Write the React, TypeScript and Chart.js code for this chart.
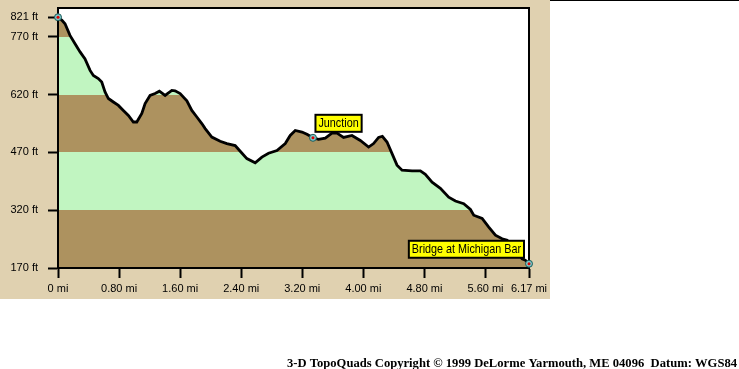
import React, { useEffect, useRef } from "react";
import { Chart, registerables } from "chart.js";

Chart.register(...registerables);

// Profile: distance (mi) and elevation (ft)
const DIST = [
  0.0, 0.052, 0.092, 0.157, 0.223, 0.289, 0.354, 0.42, 0.463, 0.528, 0.573, 0.616, 0.66, 0.725, 0.791,
  0.856, 0.922, 0.987, 1.032, 1.098, 1.141, 1.206, 1.272, 1.328, 1.403, 1.491, 1.534, 1.6, 1.688, 1.753,
  1.819, 1.884, 1.928, 2.015, 2.124, 2.212, 2.321, 2.387, 2.474, 2.583, 2.671, 2.758, 2.868, 2.977, 3.042,
  3.108, 3.196, 3.261, 3.34, 3.413, 3.501, 3.589, 3.655, 3.741, 3.851, 3.96, 4.069, 4.134, 4.2, 4.249,
  4.31, 4.376, 4.441, 4.507, 4.638, 4.747, 4.812, 4.9, 5.009, 5.118, 5.206, 5.315, 5.403, 5.446, 5.556,
  5.643, 5.73, 5.818, 5.884, 5.98, 6.08, 6.124, 6.17,
];
const ELEV = [
  821, 813, 804, 774, 752, 731, 713, 683, 670, 662, 653, 627, 610, 601, 592,
  579, 566, 549, 549, 571, 597, 618, 623, 629, 618, 631, 630, 623, 604, 579,
  562, 545, 532, 510, 499, 493, 488, 473, 454, 443, 458, 468, 475, 493, 514,
  527, 523, 517, 508, 504, 507, 520, 520, 509, 514, 501, 484, 493, 509, 512,
  497, 467, 437, 424, 422, 422, 413, 393, 377, 354, 344, 337, 322, 307, 299,
  276, 255, 246, 242, 221, 194, 190, 181,
];

const X_TICKS = [0, 0.8, 1.6, 2.4, 3.2, 4.0, 4.8, 5.6, 6.17];
const Y_TICKS = [170, 320, 470, 620, 770, 821];
const BAND_EDGES = [320, 470, 620, 770];

const WAYPOINT_DIST = [0, 3.34, 6.17];
const WAYPOINT_ELEV = [821, 508, 181];
const WAYPOINT_NAMES = ["", "Junction", "Bridge at Michigan Bar"];

const COPYRIGHT = "3-D TopoQuads Copyright \u00A9 1999 DeLorme Yarmouth, ME 04096  Datum: WGS84";

const BROWN = "#AD925F";
const GREEN = "#C1F5C1";
const TAN = "#E0D1B0";
const SANS = "'Liberation Sans', Arial, sans-serif";

export default function App() {
  const ref = useRef<HTMLCanvasElement | null>(null);

  useEffect(() => {
    const canvas = ref.current;
    if (!canvas) return;

    const decor = {
      id: "decor",
      beforeDraw(chart: any) {
        const ctx = chart.ctx;
        const a = chart.chartArea;
        ctx.save();
        ctx.fillStyle = "#fff";
        ctx.fillRect(0, 0, chart.width, chart.height);
        ctx.fillStyle = TAN;
        ctx.fillRect(0, 0, 550, 299);
        ctx.fillStyle = "#fff";
        ctx.fillRect(a.left, a.top, a.right - a.left, a.bottom - a.top);
        ctx.fillStyle = "#000";
        ctx.fillRect(550, 0, chart.width - 550, 1);
        // copyright
        ctx.font = "bold 12px 'Liberation Serif', 'Times New Roman', serif";
        const w = ctx.measureText(COPYRIGHT).width;
        ctx.translate(287, 366.5);
        ctx.scale(450 / w, 1);
        ctx.textBaseline = "alphabetic";
        ctx.textAlign = "left";
        ctx.fillText(COPYRIGHT, 0, 0);
        ctx.restore();
      },
      afterDatasetsDraw(chart: any) {
        const ctx = chart.ctx;
        const a = chart.chartArea;
        const xs = chart.scales.x;
        const ys = chart.scales.y;
        const squeeze = 0.83;
        ctx.save();
        ctx.strokeStyle = "#000";
        ctx.lineWidth = 2;
        ctx.strokeRect(a.left, a.top, a.right - a.left, a.bottom - a.top);
        ctx.font = "13px " + SANS;
        ctx.textBaseline = "middle";
        ctx.textAlign = "center";
        WAYPOINT_DIST.forEach((d, i) => {
          const px = xs.getPixelForValue(d);
          const py = ys.getPixelForValue(WAYPOINT_ELEV[i]);
          const name = WAYPOINT_NAMES[i];
          if (name) {
            const tw = ctx.measureText(name).width * squeeze + 6;
            const th = 17;
            let bx = px + 2.5;
            if (bx + tw > a.right) bx = px - 5 - tw;
            const by = py - 6 - th;
            ctx.fillStyle = "#FFFF00";
            ctx.fillRect(bx, by, tw, th);
            ctx.lineWidth = 2;
            ctx.strokeStyle = "#000";
            ctx.strokeRect(bx, by, tw, th);
            ctx.fillStyle = "#000";
            ctx.save();
            ctx.translate(bx + tw / 2, by + th / 2 + 0.5);
            ctx.scale(squeeze, 1);
            ctx.fillText(name, 0, 0);
            ctx.restore();
          }
          // marker
          ctx.beginPath();
          ctx.arc(px, py, 3.5, 0, Math.PI * 2);
          ctx.fillStyle = "#7CC8C8";
          ctx.fill();
          ctx.lineWidth = 1;
          ctx.strokeStyle = "#1E5A5A";
          ctx.stroke();
          ctx.beginPath();
          ctx.arc(px, py, 1.5, 0, Math.PI * 2);
          ctx.fillStyle = "#E00000";
          ctx.fill();
        });
        ctx.restore();
      },
    };

    const bandFill = (c: any) => {
      const chart = c.chart;
      const ys = chart.scales && chart.scales.y;
      if (!chart.chartArea || !ys) return BROWN;
      const y0 = ys.getPixelForValue(ys.min);
      const y1 = ys.getPixelForValue(ys.max);
      const g = chart.ctx.createLinearGradient(0, y0, 0, y1);
      const range = ys.max - ys.min;
      const col = (i: number) => (i % 2 === 0 ? BROWN : GREEN);
      g.addColorStop(0, col(0));
      BAND_EDGES.forEach((b, i) => {
        const f = Math.min(1, Math.max(0, (b - ys.min) / range));
        g.addColorStop(f, col(i));
        g.addColorStop(f, col(i + 1));
      });
      g.addColorStop(1, col(BAND_EDGES.length));
      return g;
    };

    const tickFont = { family: SANS, size: 11 };

    const chart = new Chart(canvas, {
      type: "line",
      data: {
        datasets: [
          {
            data: DIST.map((d, i) => ({ x: d, y: ELEV[i] })),
            borderColor: "#000",
            borderWidth: 2.8,
            pointRadius: 0,
            tension: 0,
            fill: "start",
            backgroundColor: bandFill,
          },
        ],
      },
      options: {
        responsive: false,
        animation: false,
        devicePixelRatio: 1,
        layout: { padding: { left: 0, top: 8, right: 210, bottom: 71 } },
        plugins: { legend: { display: false }, tooltip: { enabled: false } },
        scales: {
          x: {
            type: "linear",
            min: 0,
            max: 6.17,
            afterFit: (s: any) => {
              s.height = 30;
            },
            afterBuildTicks: (s: any) => {
              s.ticks = X_TICKS.map((v) => ({ value: v }));
            },
            ticks: {
              color: "#000",
              font: tickFont,
              padding: 4,
              maxRotation: 0,
              autoSkip: false,
              callback: (v: any) => (Number(v) === 0 ? "0 mi" : Number(v).toFixed(2) + " mi"),
            },
            grid: {
              display: true,
              drawOnChartArea: false,
              drawTicks: true,
              tickLength: 10,
              tickWidth: 2,
              tickColor: "#000",
            },
            border: { display: true, color: "#000", width: 2 },
          },
          y: {
            type: "linear",
            min: 170,
            max: 845,
            afterFit: (s: any) => {
              s.width = 58;
              s.paddingTop = 0;
              s.paddingBottom = 0;
            },
            afterBuildTicks: (s: any) => {
              s.ticks = Y_TICKS.map((v) => ({ value: v }));
            },
            ticks: {
              color: "#000",
              font: tickFont,
              padding: 10,
              autoSkip: false,
              callback: (v: any) => v + " ft",
            },
            grid: {
              display: true,
              drawOnChartArea: false,
              drawTicks: true,
              tickLength: 10,
              tickWidth: 2,
              tickColor: "#000",
            },
            border: { display: true, color: "#000", width: 2 },
          },
        },
      },
      plugins: [decor],
    } as any);

    return () => chart.destroy();
  }, []);

  return (
    <div style={{ position: "fixed", left: 0, top: 0, width: 739, height: 369, background: "#fff" }}>
      <canvas ref={ref} width={739} height={369} style={{ display: "block" }} />
    </div>
  );
}
